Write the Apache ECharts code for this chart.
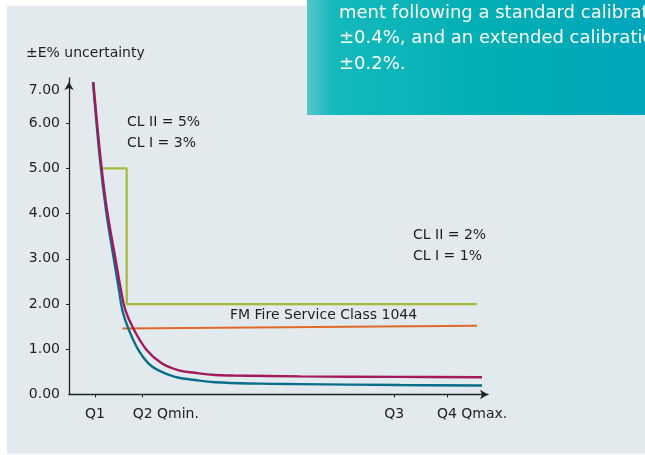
<!DOCTYPE html>
<html>
<head>
<meta charset="utf-8">
<script src="https://cdn.jsdelivr.net/npm/echarts@6/dist/echarts.min.js"></script>
<style>
html,body{margin:0;padding:0;background:#fff;}
#chart{width:645px;height:455px;}
</style>
</head>
<body>
<div id="chart"></div>
<script>
// ---- data (x: relative flow along axis 0..100, y: ±E% uncertainty) ----
const xTickValues = [6.21, 17.59, 77.64, 90.21];
const xTickLabels = ['Q1', 'Q2 Qmin.', 'Q3', 'Q4 Qmax.'];
const yTickValues = [1, 2, 3, 4, 5, 6];

// standard calibration curve (magenta, ±0.4%)
const standardCurve = [
  [5.80, 6.91], [7.57, 5.19], [9.07, 4.08], [11.15, 2.97], [12.41, 2.31],
  [13.44, 1.87], [15.35, 1.46], [18.54, 0.985], [22.12, 0.69], [26.01, 0.54],
  [30.07, 0.48], [34.84, 0.43], [39.14, 0.42], [55.13, 0.40], [79.0, 0.39], [98.57, 0.38]
];
// extended calibration curve (teal, ±0.2%)
const extendedCurve = [
  [5.73, 6.91], [7.40, 5.19], [8.83, 4.08], [10.74, 2.97], [11.93, 2.31],
  [12.72, 1.87], [14.15, 1.46], [16.54, 0.985], [18.93, 0.69], [21.24, 0.54],
  [25.30, 0.39], [30.07, 0.32], [34.84, 0.27], [45.58, 0.24], [55.13, 0.23],
  [79.0, 0.21], [98.57, 0.20]
];
// class limits CL II 5% -> 2%
const classLimit = [[7.57, 5.0], [13.77, 5.0], [13.77, 2.0], [97.37, 2.0]];
// FM Fire Service Class 1044
const fmLimit = [[12.75, 1.46], [97.37, 1.52]];

const annotations = [
  { text: 'CL II = 5%', x: 127, y: 122 },
  { text: 'CL I = 3%', x: 127, y: 143 },
  { text: 'CL II = 2%', x: 413, y: 235 },
  { text: 'CL I = 1%', x: 413, y: 256 },
  { text: 'FM Fire Service Class 1044', x: 230, y: 315 }
];
const boxLines = [
  'ment following a standard calibration',
  '±0.4%, and an extended calibration',
  '±0.2%.'
];

const FONT = 'DejaVu Sans';
const TXT = '#1e1e1e';

const graphics = [
  { type: 'rect', z: -10, silent: true,
    shape: { x: 7, y: 6, width: 645, height: 448 },
    style: { fill: '#e3eaed' } },
  { type: 'text', z: 5, left: 26, top: 46,
    style: { text: '±E% uncertainty', font: '14px "' + FONT + '"', fill: TXT } },
  { type: 'rect', z: 50, silent: true,
    shape: { x: 307, y: 0, width: 340, height: 115 },
    style: { fill: new echarts.graphic.LinearGradient(0, 0, 1, 0, [
      { offset: 0, color: '#55c5ca' },
      { offset: 0.08, color: '#14b9bc' },
      { offset: 0.55, color: '#00afb4' },
      { offset: 1, color: '#00a5bb' }
    ]) } }
];
boxLines.forEach((t, i) => {
  graphics.push({ type: 'text', z: 60, x: 339, y: 13 + i * 25.5,
    style: { text: t, font: '18px "' + FONT + '"', fill: '#ffffff', verticalAlign: 'middle' } });
});
annotations.forEach(a => {
  graphics.push({ type: 'text', z: 5, x: a.x, y: a.y,
    style: { text: a.text, font: '14px "' + FONT + '"', fill: TXT, verticalAlign: 'middle' } });
});

const labelShift = 2.4;
const xLabelPositions = xTickValues.map(v => v - labelShift);
function xLabelFor(v) {
  for (let i = 0; i < xLabelPositions.length; i++) {
    if (Math.abs(xLabelPositions[i] - v) < 0.01) return xTickLabels[i];
  }
  return '';
}
const chart = echarts.init(document.getElementById('chart'));
chart.setOption({
  backgroundColor: '#ffffff',
  animation: false,
  textStyle: { fontFamily: FONT },
  graphic: graphics,
  grid: { left: 69, right: 157, top: 78, bottom: 60.5, containLabel: false, outerBoundsMode: 'none' },
  xAxis: {
    type: 'value', min: 0, max: 100,
    axisLine: { show: true, symbol: ['none', 'arrow'], symbolSize: [7, 8],
      lineStyle: { color: '#222', width: 1.3 } },
    axisTick: { show: true, length: 3, customValues: xTickValues,
      lineStyle: { color: '#222', width: 1 } },
    axisLabel: { show: true, customValues: xLabelPositions, hideOverlap: false,
      align: 'left', margin: 13, fontSize: 14, color: TXT, fontFamily: FONT,
      formatter: v => xLabelFor(v) },
    splitLine: { show: false }
  },
  yAxis: {
    type: 'value', min: 0, max: 7, interval: 1,
    axisLine: { show: true, symbol: ['none', 'arrow'], symbolSize: [7, 8], symbolOffset: [0, -4],
      lineStyle: { color: '#222', width: 1.3 } },
    axisTick: { show: true, length: 3, customValues: yTickValues,
      lineStyle: { color: '#222', width: 1 } },
    axisLabel: { show: true, margin: 9, fontSize: 14, color: TXT, fontFamily: FONT,
      formatter: v => v === 7 ? '{top|7.00}' : v.toFixed(2),
      rich: { top: { padding: [24, 0, 0, 0], fontSize: 14, color: TXT, fontFamily: FONT } } },
    splitLine: { show: false }
  },
  series: [
    { name: 'class limit', type: 'line', data: classLimit, showSymbol: false, symbol: 'none',
      lineStyle: { color: '#a9b83c', width: 2.2 }, z: 2 },
    { name: 'FM', type: 'line', data: fmLimit, showSymbol: false, symbol: 'none',
      lineStyle: { color: '#e0692a', width: 2.2 }, z: 2 },
    { name: 'extended', type: 'line', data: extendedCurve, showSymbol: false, symbol: 'none',
      smooth: 0.4,
      lineStyle: { color: '#0b6d8c', width: 2.4 }, z: 3 },
    { name: 'standard', type: 'line', data: standardCurve, showSymbol: false, symbol: 'none',
      smooth: 0.4,
      lineStyle: { color: '#a21a5c', width: 2.4 }, z: 4 }
  ]
});
</script>
</body>
</html>
